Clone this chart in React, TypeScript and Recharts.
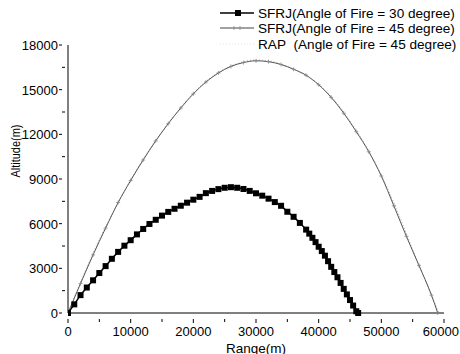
import React from 'react';
import { LineChart, Line, XAxis, YAxis } from 'recharts';

document.body.style.margin = '0';

// range (m)
const sfrj30Range = [
  0, 1000, 2000, 3000, 4000, 5000, 6000, 7000, 8000, 9000, 10000, 11000, 12000, 13000, 14000,
  15000, 16000, 17000, 18000, 19000, 20000, 21000, 22000, 23000, 24000, 25000, 26000, 27000,
  28000, 29000, 30000, 31000, 32000, 33000, 34000, 35000, 36000, 37000, 38000, 38500, 39000,
  39500, 40000, 40500, 41000, 41500, 42000, 42500, 43000, 43500, 44000, 44500, 45000, 45500,
  46000, 46300,
];
// altitude (m)
const sfrj30Alt = [
  0, 580, 1200, 1710, 2195, 2685, 3150, 3640, 4105, 4520, 4890, 5280, 5645, 5980, 6260,
  6540, 6790, 7000, 7205, 7410, 7610, 7800, 8050, 8200, 8320, 8410, 8450, 8410,
  8330, 8200, 8040, 7880, 7680, 7450, 7200, 6800, 6460, 6050, 5600, 5330, 5050,
  4760, 4450, 4160, 3850, 3480, 3100, 2750, 2400, 2020, 1620, 1250, 870, 500,
  120, 0,
];

const sfrj45Range = [
  0, 2000, 4000, 6000, 8000, 10000, 12000, 14000, 16000, 18000, 20000, 22000, 24000, 26000,
  28000, 30000, 32000, 34000, 36000, 38000, 40000, 42000, 44000, 46000, 48000, 50000, 52000,
  54000, 56000, 58000, 59000,
];
const sfrj45Alt = [
  0, 1980, 3900, 5700, 7420, 8900, 10280, 11560, 12720, 13770, 14720, 15510, 16120, 16560,
  16820, 16940, 16880, 16690, 16370, 15970, 15330, 14480, 13420, 12180, 10830, 9200, 7200,
  5150, 3200, 1200, 0,
];

const rapRange = [
  0, 1000, 2500, 5000, 7500, 10000, 12500, 15000, 17500, 20000, 22500, 25000, 27500, 30000,
  32500, 35000, 37500, 40000, 42500, 45000, 47500, 50000, 52500, 55000, 57500, 59200,
];
const rapAlt = [
  0, 1050, 2550, 4950, 7000, 8950, 10650, 12180, 13550, 14760, 15720, 16400, 16820, 17000,
  16900, 16560, 16050, 15350, 14300, 12900, 11250, 9250, 6900, 4250, 1700, 0,
];

const xTicks = [0, 5000, 10000, 15000, 20000, 25000, 30000, 35000, 40000, 45000, 50000, 55000, 60000];
const yTicks = [0, 1500, 3000, 4500, 6000, 7500, 9000, 10500, 12000, 13500, 15000, 16500, 18000];

const legendLabels = [
  'SFRJ(Angle of Fire = 30 degree)',
  'SFRJ(Angle of Fire = 45 degree)',
  'RAP\u00a0\u00a0(Angle of Fire = 45 degree)',
];

const toPoints = (xs: number[], ys: number[]) => xs.map((x, i) => ({ x, y: ys[i] }));

const sfrj30 = toPoints(sfrj30Range, sfrj30Alt);
const sfrj45 = toPoints(sfrj45Range, sfrj45Alt);
const rap = toPoints(rapRange, rapAlt);

const font = '"Liberation Sans", Arial, sans-serif';

const SquareDot = (props: any) => {
  const { cx, cy } = props;
  if (cx == null || cy == null) return null;
  return <rect x={cx - 3} y={cy - 3} width={6} height={6} fill="#000" />;
};

const CrossDot = (props: any) => {
  const { cx, cy } = props;
  if (cx == null || cy == null) return null;
  return (
    <g stroke="#888" strokeWidth={0.8}>
      <line x1={cx - 2} y1={cy} x2={cx + 2} y2={cy} />
      <line x1={cx} y1={cy - 2} x2={cx} y2={cy + 2} />
    </g>
  );
};

const XTick = (props: any) => {
  const { x, y, payload } = props;
  const major = payload.value % 10000 === 0;
  const last = payload.value === xTicks[xTicks.length - 1];
  // y is the label position; axis line sits tickMargin above
  const axisY = y - 2;
  return (
    <g>
      <line x1={x} y1={axisY} x2={x} y2={axisY + (major ? 4 : 3)} stroke="#000" />
      {major && (
        <text
          x={last ? x + 15 : x}
          y={axisY + 17}
          textAnchor={last ? 'end' : 'middle'}
          fontSize={13}
          fontFamily={font}
          fill="#000"
        >
          {payload.value}
        </text>
      )}
    </g>
  );
};

const YTick = (props: any) => {
  const { x, y, payload } = props;
  const major = payload.value % 3000 === 0;
  const axisX = x + 2;
  return (
    <g>
      <line x1={axisX - (major ? 3 : 0)} y1={y} x2={axisX + (major ? 0 : 3)} y2={y} stroke="#000" />
      {major && (
        <text x={axisX - 4} y={y + 5} textAnchor="end" fontSize={13} fontFamily={font} fill="#000">
          {payload.value}
        </text>
      )}
    </g>
  );
};

const RangeLabel = () => (
  <text x={256} y={352.5} textAnchor="middle" fontSize={13.5} fontFamily={font} fill="#000">
    Range(m)
  </text>
);

const AltitudeLabel = () => (
  <text
    transform="translate(20,151) rotate(-90)"
    textAnchor="middle"
    fontSize={12.5}
    fontFamily={font}
    fill="#000"
    textLength={53}
    lengthAdjust="spacingAndGlyphs"
  >
    Altitude(m)
  </text>
);

const ChartLegend = () => (
  <svg width={240} height={52} style={{ position: 'absolute', top: 0, left: 220 }}>
    <g fontFamily={font} fontSize={13.6} fill="#000">
      <line x1={0} y1={13} x2={34} y2={13} stroke="#000" strokeWidth={1.5} />
      <rect x={15} y={10} width={6} height={6} fill="#000" />
      <text x={38} y={18}>{legendLabels[0]}</text>
      <line x1={0} y1={28} x2={34} y2={28} stroke="#444" strokeWidth={1} />
      <line x1={14} y1={26} x2={14} y2={30} stroke="#888" strokeWidth={0.8} />
      <line x1={20} y1={26} x2={20} y2={30} stroke="#888" strokeWidth={0.8} />
      <text x={38} y={33}>{legendLabels[1]}</text>
      <line x1={0} y1={44} x2={34} y2={44} stroke="#e4e4e4" strokeWidth={1} strokeDasharray="1 2" />
      <text x={38} y={49}>{legendLabels[2]}</text>
    </g>
  </svg>
);

export default function App() {
  return (
    <div style={{ width: 460, height: 354, background: '#fff', position: 'relative' }}>
      <LineChart width={460} height={354} margin={{ top: 45, right: 16, bottom: 0, left: 0 }}>
        <XAxis
          type="number"
          dataKey="x"
          domain={[0, 60000]}
          ticks={xTicks}
          interval={0}
          tickLine={false}
          tickMargin={2}
          tick={<XTick />}
          axisLine={{ stroke: '#000' }}
          height={41}
          allowDataOverflow
          label={{ content: <RangeLabel /> }}
        />
        <YAxis
          type="number"
          dataKey="y"
          domain={[0, 18000]}
          ticks={yTicks}
          interval={0}
          tickLine={false}
          tickMargin={2}
          tick={<YTick />}
          axisLine={{ stroke: '#000' }}
          width={68}
          label={{ content: <AltitudeLabel /> }}
        />
        <Line
          data={rap}
          dataKey="y"
          stroke="#aaa"
          strokeWidth={1}
          strokeDasharray="1 2"
          dot={false}
          isAnimationActive={false}
          type="monotone"
        />
        <Line
          data={sfrj45}
          dataKey="y"
          stroke="#555"
          strokeWidth={1}
          dot={<CrossDot />}
          isAnimationActive={false}
          type="monotone"
        />
        <Line
          data={sfrj30}
          dataKey="y"
          stroke="#000"
          strokeWidth={1.5}
          dot={<SquareDot />}
          isAnimationActive={false}
          type="monotone"
        />
      </LineChart>
      <ChartLegend />
    </div>
  );
}
